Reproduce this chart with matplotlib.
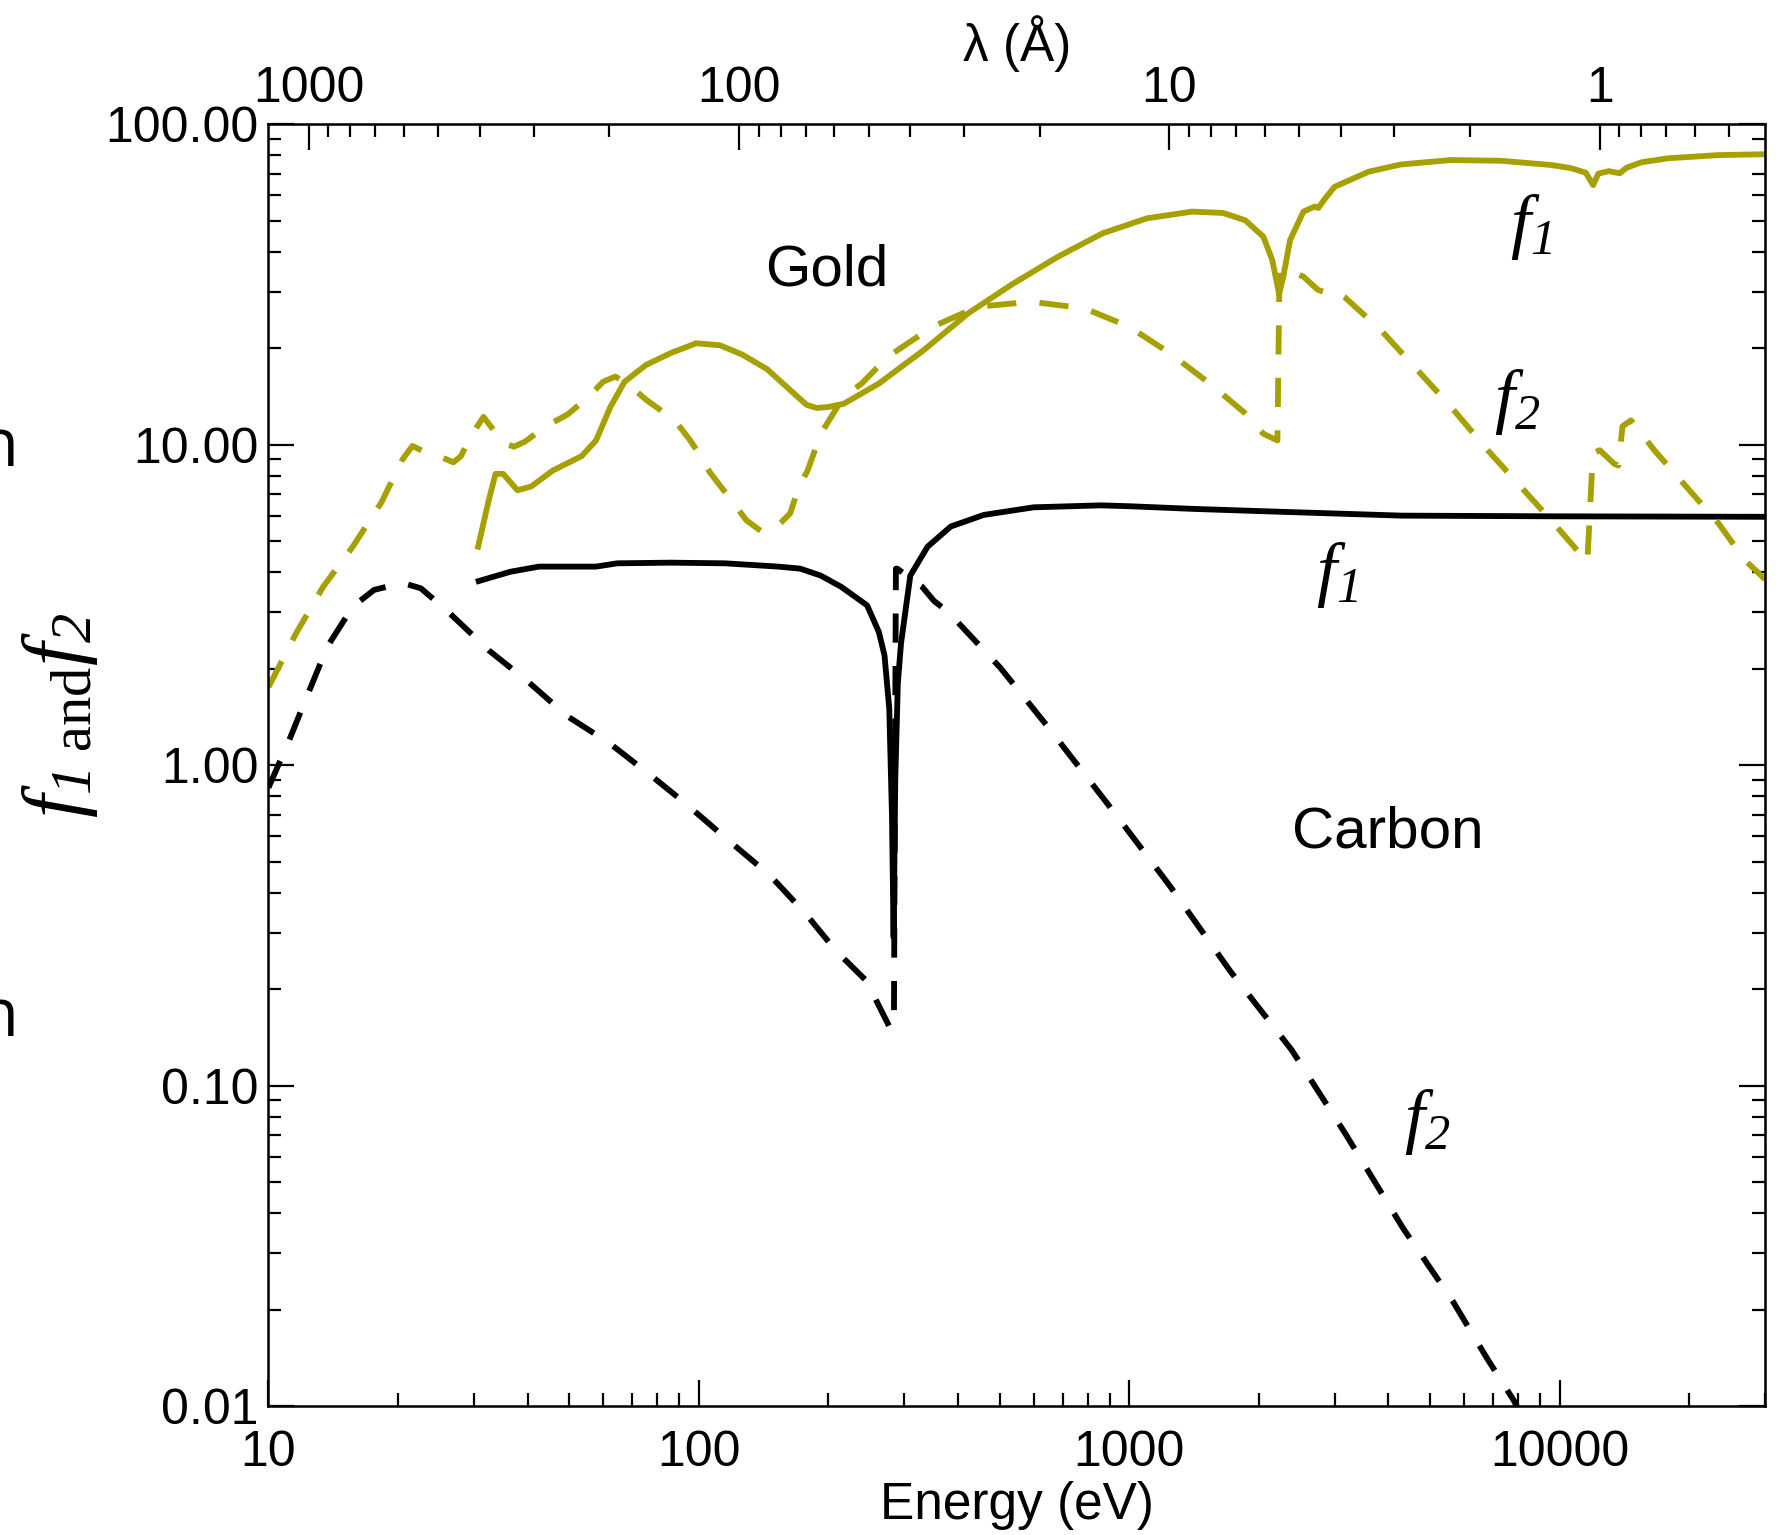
import numpy as np
import matplotlib
matplotlib.use("Agg")
import matplotlib.pyplot as plt
from matplotlib.ticker import FixedLocator, FixedFormatter, NullFormatter, LogLocator

plt.rcParams['font.family'] = ['Liberation Sans', 'DejaVu Sans']
# italic serif for the f labels (subscript digits italic too), upright serif via \mathsf
plt.rcParams['mathtext.fontset'] = 'custom'
plt.rcParams['mathtext.rm'] = 'Liberation Serif:italic'
plt.rcParams['mathtext.it'] = 'Liberation Serif:italic'
plt.rcParams['mathtext.sf'] = 'Liberation Serif'

HC = 12398.4  # eV * Angstrom

# ── Data (energy in eV, scattering factors) ──────────────────────────
gold_f1_E = [30.7, 32.5, 33.7, 35.1, 37.9, 40.8, 45.8, 53.4, 57.7, 62.3, 67.2,
             75.3, 86.1, 98.6, 112, 126, 144, 162, 178, 188, 200, 217, 262,
             333, 423, 538, 682, 867, 1100, 1400, 1650, 1860, 2050, 2150,
             2230, 2280, 2365, 2540, 2700, 2750, 2850, 3000, 3600, 4280,
             5600, 7300, 9560, 10640, 11500, 11970, 12300, 13000, 13800,
             14300, 15500, 17900, 23400, 30000]
gold_f1 = [4.8, 6.7, 8.1, 8.1, 7.2, 7.4, 8.3, 9.2, 10.3, 13.1, 15.7,
           17.7, 19.3, 20.7, 20.4, 19.1, 17.2, 14.9, 13.3, 13.0, 13.1, 13.4, 15.5,
           19.7, 25.7, 31.8, 38.5, 45.6, 50.8, 53.3, 52.8, 50.1, 44.5, 37.6,
           29.5, 33.4, 43.5, 53.3, 55.3, 54.7, 58.5, 63.7, 71.0, 74.8,
           77.2, 76.8, 74.5, 72.8, 70.5, 64.5, 70.0, 71.3, 70.2,
           73.0, 76.0, 78.2, 80.0, 80.5]

gold_f2_E = [10.0, 11.6, 13.4, 15.7, 18.3, 20.5, 21.6, 23.0, 24.9, 26.9, 28.0,
             29.5, 31.6, 33.5, 35.1, 37.2, 39.4, 44.1, 49.5, 55.5, 59.9, 64.0,
             69.8, 75.4, 87.9, 95, 101, 106, 119, 129, 140, 148, 155, 163, 171,
             179, 192, 217, 239, 275, 349, 444, 591, 788, 1000, 1241, 1539,
             1862, 2050, 2210, 2235, 2400, 2540, 2742, 2950, 3050, 3160, 3850,
             4596, 5594, 6808, 7990, 9560, 11600, 11950, 12400, 13400, 13700,
             14000, 14650, 16600, 19500, 23350, 26900, 30000]
gold_f2 = [1.75, 2.58, 3.6, 4.8, 6.6, 9.0, 9.9, 9.5, 9.2, 8.8, 9.2,
           10.6, 12.2, 11.0, 10.1, 9.85, 10.2, 11.4, 12.4, 14.1, 15.7, 16.3,
           15.1, 13.8, 11.9, 10.4, 9.2, 8.2, 6.7, 5.8, 5.35, 5.4, 5.7, 6.1, 7.4,
           8.3, 10.8, 14.1, 15.5, 18.8, 23.3, 26.9, 27.9, 26.6, 23.3, 19.3, 15.5,
           12.5, 10.8, 10.3, 35.0, 34.5, 33.4, 30.4, 29.4, 29.8, 28.9, 22.7,
           17.5, 13.1, 9.6, 7.57, 5.8, 4.3, 9.4, 9.6, 8.7, 8.6,
           11.4, 11.9, 9.6, 7.5, 5.7, 4.37, 3.8]

carbon_f1_E = [30.8, 36.5, 42.5, 57.7, 64.6, 86, 115, 153, 172, 192, 214, 246,
               262, 270, 277, 281, 283.5, 286, 290, 295, 310, 340, 385, 459,
               600, 859, 1000, 1400, 2000, 4300, 10000, 30000]
carbon_f1 = [3.75, 4.01, 4.16, 4.16, 4.26, 4.28, 4.26, 4.16, 4.1, 3.9, 3.6, 3.15,
             2.6, 2.2, 1.5, 0.7, 0.29, 0.9, 1.8, 2.4, 3.9, 4.8, 5.55, 6.03,
             6.37, 6.46, 6.42, 6.3, 6.2, 6.0, 5.97, 5.95]

carbon_f2_E = [10.0, 11.1, 12.2, 13.7, 15.7, 17.6, 20.5, 22.6, 26.2, 32.5, 40.1,
               49.5, 62, 78, 93, 117.5, 146, 176.6, 209, 247, 259, 279, 284,
               287, 289, 329, 352, 380, 502, 643, 892, 1239, 1719, 2386, 3178,
               4321, 5640, 6780, 7830, 8100]
carbon_f2 = [0.85, 1.17, 1.6, 2.34, 3.12, 3.52, 3.7, 3.56, 3.0, 2.28, 1.82,
             1.42, 1.17, 0.92, 0.76, 0.58, 0.454, 0.345, 0.262, 0.21, 0.183, 0.15, 0.16,
             4.1, 4.1, 3.62, 3.25, 3.0, 2.01, 1.33, 0.755, 0.422, 0.227, 0.129, 0.0708,
             0.036, 0.0213, 0.0141, 0.0104, 0.0095]

E_LIM = (10, 30000)
F_LIM = (0.01, 100)
y_ticks = [0.01, 0.1, 1, 10, 100]
x_ticks = [10, 100, 1000, 10000]
x_ticklabels = ['10', '100', '1000', '10000']
lam_major = [1000, 100, 10, 1]
lam_labels = ['1000', '100', '10', '1']

GOLD = '#a6a000'
LW = 4.2
DASH = (0, (5.0, 4.0))

fig = plt.figure(figsize=(17.79, 15.35), dpi=100)
ax = fig.add_axes([0.1509, 0.0840, 0.8412, 0.8352])

ax.plot(carbon_f1_E, carbon_f1, color='black', lw=LW, solid_joinstyle='round')
ax.plot(carbon_f2_E, carbon_f2, color='black', lw=LW, ls=DASH)
ax.plot(gold_f1_E, gold_f1, color=GOLD, lw=LW, solid_joinstyle='round')
ax.plot(gold_f2_E, gold_f2, color=GOLD, lw=LW, ls=DASH)

ax.set_xscale('log')
ax.set_yscale('log')
ax.set_xlim(*E_LIM)
ax.set_ylim(*F_LIM)

ax.xaxis.set_major_locator(FixedLocator(x_ticks))
ax.xaxis.set_major_formatter(FixedFormatter(x_ticklabels))
ax.xaxis.set_minor_locator(LogLocator(base=10, subs=np.arange(2, 10)))
ax.xaxis.set_minor_formatter(NullFormatter())
ax.yaxis.set_major_locator(FixedLocator(y_ticks))
ax.yaxis.set_major_formatter(FixedFormatter(['%.2f' % v for v in y_ticks]))
ax.yaxis.set_minor_locator(LogLocator(base=10, subs=np.arange(2, 10)))
ax.yaxis.set_minor_formatter(NullFormatter())

ax.tick_params(which='both', direction='in', top=False, right=True, width=1.6)
ax.tick_params(which='major', length=19, labelsize=36)
ax.tick_params(which='minor', length=9.5)
ax.tick_params(axis='x', pad=17)
ax.tick_params(axis='y', pad=7)
for s in ax.spines.values():
    s.set_linewidth(1.8)

ax.set_xlabel('Energy (eV)', fontsize=37, labelpad=4)

# wavelength axis on top
ax_top = ax.twiny()
ax_top.set_xscale('log')
ax_top.set_xlim(*E_LIM)
lam_minor = [k * 10.0**n for n in (-1, 0, 1, 2) for k in range(2, 10)
             if HC / E_LIM[1] < k * 10.0**n < HC / E_LIM[0]]
ax_top.xaxis.set_major_locator(FixedLocator([HC / l for l in lam_major]))
ax_top.xaxis.set_major_formatter(FixedFormatter(lam_labels))
ax_top.xaxis.set_minor_locator(FixedLocator([HC / l for l in lam_minor]))
ax_top.xaxis.set_minor_formatter(NullFormatter())
ax_top.tick_params(which='both', direction='in', width=1.6, pad=9)
ax_top.tick_params(which='major', length=19, labelsize=36)
ax_top.tick_params(which='minor', length=9.5)
ax_top.set_xlabel('λ (Å)', fontsize=37, labelpad=3)

# annotations
ax.text(198, 35.0, 'Gold', fontsize=42, ha='center', va='center')
ax.text(3990, 0.615, 'Carbon', fontsize=42, ha='center', va='center')
ax.text(8570, 47.7, r'$f_1$', fontsize=52, ha='center', va='center')
ax.text(7960, 13.6, r'$f_2$', fontsize=52, ha='center', va='center')
ax.text(3040, 3.92, r'$f_1$', fontsize=52, ha='center', va='center')
ax.text(4920, 0.0769, r'$f_2$', fontsize=52, ha='center', va='center')

fig.text(60 / 1779, 1 - 715 / 1535, r'$f_{1\ \mathsf{and}}f_2$',
         rotation=90, fontsize=60, ha='center', va='center')

# clipped slide-text fragments at the left edge
for ypix in (448, 1018):
    fig.text(18 / 1779, 1 - ypix / 1535, 'n', fontsize=48, family='Open Sans',
             ha='right', va='center')

fig.savefig('out.png', dpi=100)
